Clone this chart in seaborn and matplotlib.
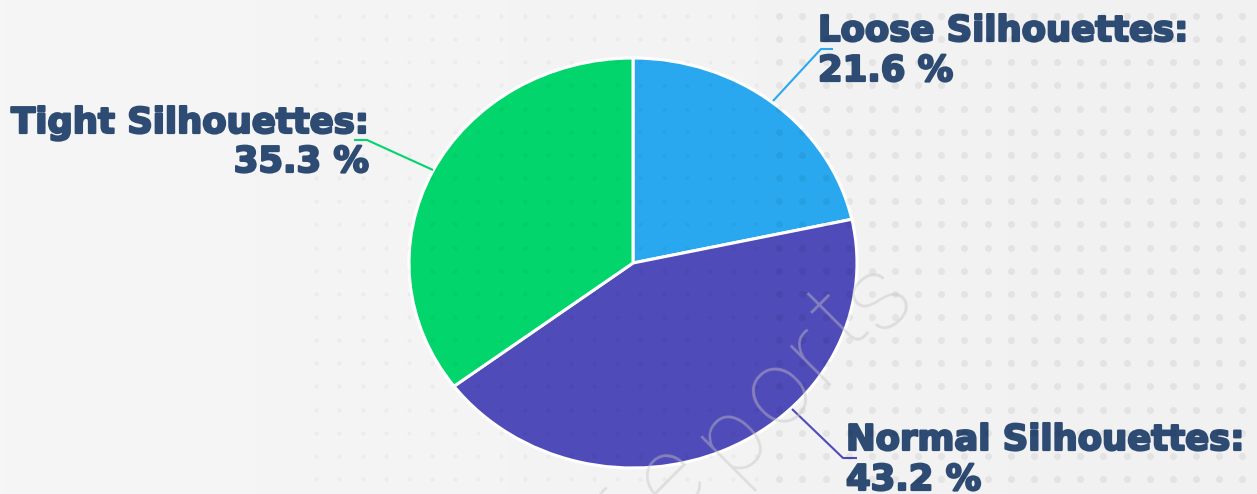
import numpy as np
import matplotlib
matplotlib.use("Agg")
import matplotlib.pyplot as plt
import matplotlib.patheffects as pe
from matplotlib.colors import LinearSegmentedColormap
import seaborn as sns

# ---- data ----
categories = ["Loose Silhouettes", "Normal Silhouettes", "Tight Silhouettes"]
shares = [21.6, 43.2, 35.3]
colors = ["#29A8F0", "#4F4BB8", "#01D56B"]

sns.set_theme(style="white")
plt.rcParams['font.family'] = ['DejaVu Sans']

W, H = 1257, 494
fig = plt.figure(figsize=(W / 100, H / 100), dpi=100)
fig.patch.set_facecolor("#F2F2F2")

# ---- background decoration (pixel coordinates) ----
bg = fig.add_axes([0, 0, 1, 1], zorder=0)
bg.set_xlim(0, W)
bg.set_ylim(H, 0)
bg.axis("off")
grad = np.linspace(0, 1, 256)[None, :]
cmap_bg = LinearSegmentedColormap.from_list("bg", ["#F6F6F6", "#F1F1F1"])
bg.imshow(grad, extent=(0, W, H, 0), aspect="auto", cmap=cmap_bg, zorder=0)

# ---- pie ----
cx, cy, rx, ry = 633, 263, 224, 205
ax = fig.add_axes([0, 0, 1, 1], zorder=1)
ax.set_facecolor("none")
wedges, _ = ax.pie(shares, colors=colors, startangle=90, counterclock=False,
                   wedgeprops=dict(edgecolor="white", linewidth=2.2, joinstyle="round"))
ax.set_aspect("auto")
ax.set_xlim(-cx / rx, (W - cx) / rx)
ax.set_ylim(-(H - cy) / ry, cy / ry)
ax.axis("off")

# ---- dot grid overlay + watermark (decoration) ----
ov = fig.add_axes([0, 0, 1, 1], zorder=2)
ov.set_xlim(0, W)
ov.set_ylim(H, 0)
ov.axis("off")
ov.set_facecolor("none")
step = 23.15
xs = np.arange(779.3, W, step)
ys = np.arange(16, H, step)
gx, gy = np.meshgrid(xs, ys)
ov.scatter(gx.ravel(), gy.ravel(), s=26, color="black", alpha=0.055, linewidths=0)
xs2 = np.arange(779.3 - step * 20, 779.3 - step / 2, step)
gx2, gy2 = np.meshgrid(xs2, ys)
ov.scatter(gx2.ravel(), gy2.ravel(), s=10, color="black", alpha=0.03, linewidths=0)

wm_chars = ["r", "e", "p", "o", "r", "t", "s"]
wm_pos = [(612, 512), (670, 478), (731, 436), (778, 391), (813, 354), (840, 319), (878, 296)]
for ch, (x, y) in zip(wm_chars, wm_pos):
    ov.text(x, y, ch, fontsize=76, family=["Roboto", "DejaVu Sans"], fontweight=100,
            color="#C4C4C4", alpha=0.45, rotation=45, rotation_mode="anchor",
            ha="center", va="center", zorder=1)

def P(x, y):
    return ((x - cx) / rx, (cy - y) / ry)

text_color = "#2D4B73"
fs = 25.5
# label layouts (pixel positions: leader polyline, text x, baselines)
layouts = [
    dict(line=[(773, 101), (821, 49), (833, 49)], x=818, b=(41, 81), ha="left"),
    dict(line=[(792, 409), (843, 458), (857, 458)], x=846, b=(450, 490), ha="left"),
    dict(line=[(433, 170), (367, 140), (354, 140)], x=369, b=(133, 172), ha="right"),
]
stroke = [pe.withStroke(linewidth=1.6, foreground=text_color)]
for cat, val, col, lay in zip(categories, shares, colors, layouts):
    pts = [P(*p) for p in lay["line"]]
    ax.plot([p[0] for p in pts], [p[1] for p in pts], color=col, lw=1.5,
            solid_capstyle="butt", clip_on=False)
    for txt, b in zip([f"{cat}:", f"{val:.1f} %"], lay["b"]):
        tx, ty = P(lay["x"], b)
        ax.text(tx, ty, txt, ha=lay["ha"], va="baseline",
                fontsize=fs, fontweight="bold", color=text_color,
                path_effects=stroke, zorder=5)

fig.savefig("out.png", dpi=100, facecolor=fig.get_facecolor())
